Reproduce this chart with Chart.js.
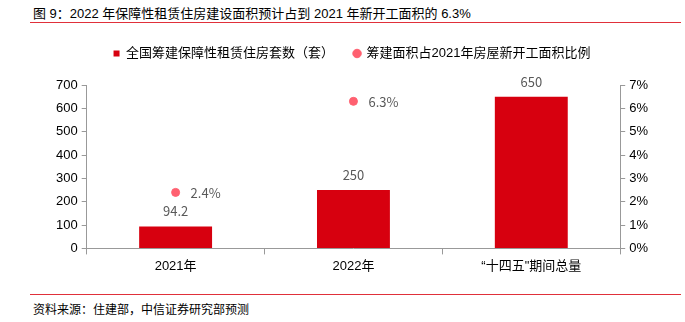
<!DOCTYPE html>
<html>
<head>
<meta charset="utf-8">
<script src="https://cdn.jsdelivr.net/npm/chart.js@4/dist/chart.umd.min.js"></script>
<style>
  body { margin: 0; background: #fff; font-family: "Liberation Sans", "Noto Sans CJK SC", sans-serif; }
  #wrap { position: relative; width: 685px; height: 322px; }
  #title { position: absolute; left: 33px; top: 3px; font-size: 13px; color: #000; }
  #line1 { position: absolute; left: 30px; top: 22px; width: 651px; height: 1px; background: #e0303a; }
  #box { position: absolute; left: 0; top: 27px; width: 685px; height: 255px; }
  #line2 { position: absolute; left: 30px; top: 294px; width: 651px; height: 1px; background: #e0303a; }
  #source { position: absolute; left: 33px; top: 300px; font-size: 12px; color: #000; }
</style>
</head>
<body>
<div id="wrap">
  <div id="title">图 9：2022 年保障性租赁住房建设面积预计占到 2021 年新开工面积的 6.3%</div>
  <div id="line1"></div>
  <div id="box"><canvas id="canvas"></canvas></div>
  <div id="line2"></div>
  <div id="source">资料来源：住建部，中信证券研究部预测</div>
</div>
<script>
const categories = ['2021年', '2022年', '“十四五"期间总量'];
const housingUnits = [94.2, 250, 650];
const areaShare = [2.4, 6.3, null];
const leftTicks = [0, 100, 200, 300, 400, 500, 600, 700];
const rightTicks = [0, 1, 2, 3, 4, 5, 6, 7];

const FONT = '"Liberation Sans", "Noto Sans CJK SC", sans-serif';

document.addEventListener("DOMContentLoaded", () => {
  const ctx = document.getElementById('canvas').getContext('2d');

  // draws the value next to every bar and point
  const valueLabels = {
    id: 'valueLabels',
    afterDatasetsDraw(chart) {
      const c = chart.ctx;
      c.save();
      c.font = '13px "Noto Sans CJK SC", sans-serif';
      c.fillStyle = '#595959';
      c.textBaseline = 'middle';
      chart.data.datasets.forEach((ds, di) => {
        chart.getDatasetMeta(di).data.forEach((el, i) => {
          const v = ds.data[i];
          if (v == null) return;
          if (ds.type === 'bar') {
            c.textAlign = 'center';
            c.fillText(String(v), el.x, el.y - 15);
          } else {
            c.textAlign = 'left';
            c.fillText(v.toFixed(1) + '%', el.x + 15, el.y + 1);
          }
        });
      });
      c.restore();
    }
  };

  // extra room under the legend
  const legendGap = {
    id: 'legendGap',
    beforeInit(chart) {
      const fit = chart.legend.fit;
      chart.legend.fit = function () {
        fit.bind(chart.legend)();
        this.height += 15;
      };
    }
  };

  new Chart(ctx, {
    data: {
      labels: categories,
      datasets: [
        {
          type: 'line',
          label: '筹建面积占2021年房屋新开工面积比例',
          data: areaShare,
          yAxisID: 'y1',
          showLine: false,
          backgroundColor: '#ff6070',
          borderColor: '#ff6070',
          pointRadius: 4,
          pointStyle: 'circle',
          order: 0
        },
        {
          type: 'bar',
          label: '全国筹建保障性租赁住房套数（套）',
          data: housingUnits,
          yAxisID: 'y',
          backgroundColor: '#d7000f',
          barPercentage: 0.41,
          categoryPercentage: 1,
          pointStyle: 'rect',
          order: 1
        }
      ]
    },
    options: {
      responsive: true,
      maintainAspectRatio: false,
      animation: false,
      layout: { padding: { left: 52, right: 33, top: 0, bottom: 4 } },
      plugins: {
        legend: {
          reverse: true,
          labels: {
            usePointStyle: true,
            boxWidth: 6,
            boxHeight: 6,
            padding: 20,
            color: '#000',
            font: { size: 13, family: FONT }
          }
        },
        tooltip: { enabled: false }
      },
      scales: {
        x: {
          type: 'category',
          grid: { offset: true, drawOnChartArea: false, tickLength: 6, color: '#999' },
          border: { color: '#999' },
          ticks: { color: '#000', font: { size: 13, family: FONT }, padding: 4 }
        },
        y: {
          position: 'left',
          min: 0, max: 700,
          afterBuildTicks: (s) => { s.ticks = leftTicks.map(v => ({ value: v })); },
          grid: { drawOnChartArea: false, tickLength: 5, color: '#999' },
          border: { color: '#999' },
          ticks: { color: '#000', font: { size: 13, family: FONT }, padding: 4 }
        },
        y1: {
          position: 'right',
          min: 0, max: 7,
          afterBuildTicks: (s) => { s.ticks = rightTicks.map(v => ({ value: v })); },
          grid: { drawOnChartArea: false, tickLength: 5, color: '#999' },
          border: { color: '#999' },
          ticks: { color: '#000', font: { size: 13, family: FONT }, padding: 4,
                   callback: (v) => v + '%' }
        }
      }
    },
    plugins: [valueLabels, legendGap]
  });
});
</script>
</body>
</html>
